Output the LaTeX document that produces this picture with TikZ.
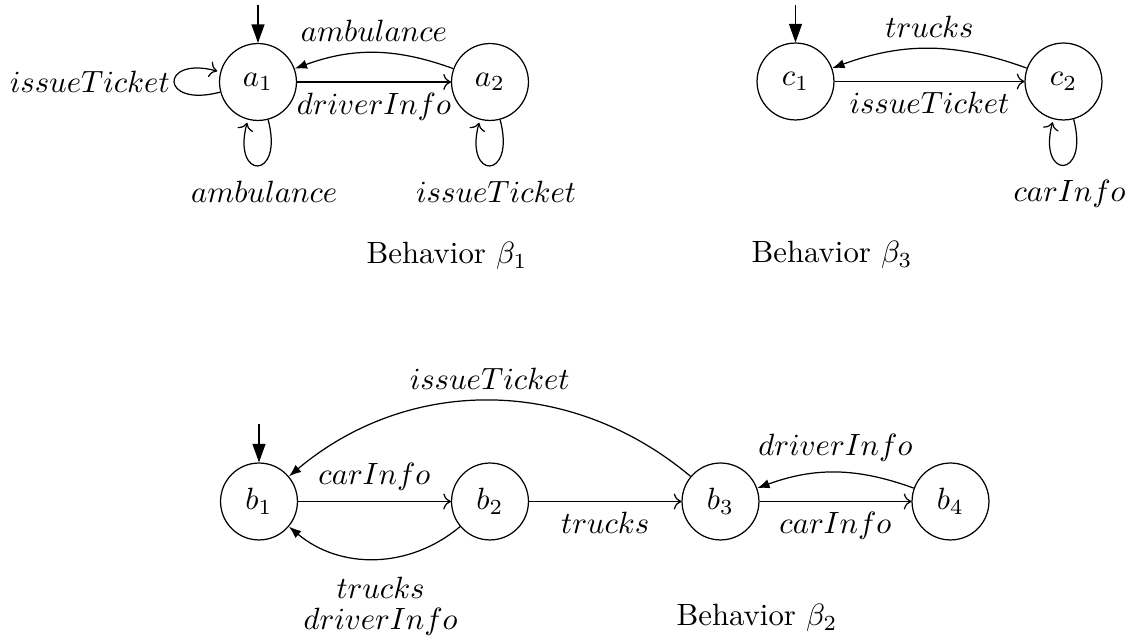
\documentclass[tikz,border=0pt]{standalone}
\usetikzlibrary{automata,arrows.meta}
\begin{document}
\begin{tikzpicture}[x=0.325pt,y=0.325pt,
  st/.style={state, minimum size=25pt, inner sep=0pt},
  fwd/.style={->},
  back/.style={-{Latex[length=4pt,width=3pt]}},
  init/.style={-{Triangle[length=6pt,width=4.2pt]}},
  looplbl/.style={below,xshift=2pt,yshift=-1.5pt}]
\useasboundingbox (0,0) rectangle (1125,-638);

% Behavior beta_1
\node[st] (a1) at (258,-82) {$a_1$};
\node[st] (a2) at (490,-82) {$a_2$};
\coordinate (a1in) at (258,-5);
\draw[init] (a1in) -- (a1);
\path[fwd] (a1) edge node[below] {$driverInfo$} (a2);
\path[back] (a2) edge[bend right=20] node[above] {$ambulance$} (a1);
\path (a1) edge[loop left] node[left,xshift=2pt] {$issueTicket$} ();
\path (a1) edge[loop below] node[looplbl] {$ambulance$} ();
\path (a2) edge[loop below] node[looplbl] {$issueTicket$} ();
\node (beh1) at (447,-256) {Behavior $\beta_1$};

% Behavior beta_3
\node[st] (c1) at (795.5,-81.5) {$c_1$};
\node[st] (c2) at (1063.5,-81.5) {$c_2$};
\coordinate (c1in) at (795.5,-5);
\draw[init] (c1in) -- (c1);
\path[fwd] (c1) edge node[below] {$issueTicket$} (c2);
\path[back] (c2) edge[bend right=20] node[above] {$trucks$} (c1);
\path (c2) edge[loop below] node[looplbl] {$carInfo$} ();
\node (beh3) at (832,-255) {Behavior $\beta_3$};

% Behavior beta_2
\node[st] (b1) at (259,-501.5) {$b_1$};
\node[st] (b2) at (490,-501.5) {$b_2$};
\node[st] (b3) at (720.5,-501.5) {$b_3$};
\node[st] (b4) at (950.5,-501.5) {$b_4$};
\coordinate (b1in) at (259,-424);
\draw[init] (b1in) -- (b1);
\path[fwd] (b1) edge node[above] {$carInfo$} (b2);
\path[fwd] (b2) edge node[below] {$trucks$} (b3);
\path[fwd] (b3) edge node[below] {$carInfo$} (b4);
\path[back] (b4) edge[bend right=20] node[above] {$driverInfo$} (b3);
\path[back] (b3) edge[bend right=40] node[above] {$issueTicket$} (b1);
\path[back] (b2) edge[bend left=40] node[below,align=center,xshift=2pt,yshift=-2.5pt] {$trucks$\\[-2pt]$driverInfo$} (b1);
\node (beh2) at (757,-618) {Behavior $\beta_2$};
\end{tikzpicture}
\end{document}
